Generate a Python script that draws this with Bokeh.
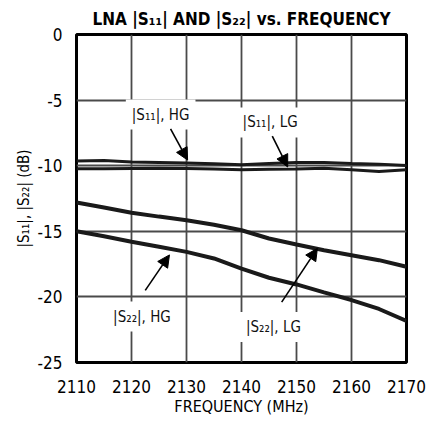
import numpy as np
from bokeh.plotting import figure
from bokeh.models import Range1d, FixedTicker, Label, Arrow, NormalHead
from bokeh.embed import file_html
from bokeh.resources import INLINE

# ---- data ----
freq = [2110, 2115, 2120, 2125, 2130, 2135, 2140, 2145, 2150, 2155, 2160, 2165, 2170]
s11_hg = [-9.65, -9.60, -9.72, -9.76, -9.80, -9.86, -9.93, -9.84, -9.75, -9.75, -9.84, -9.88, -9.98]
s11_lg = [-10.24, -10.24, -10.22, -10.20, -10.22, -10.26, -10.30, -10.28, -10.26, -10.20, -10.30, -10.45, -10.30]
s22_lg = [-12.80, -13.18, -13.58, -13.88, -14.16, -14.50, -14.92, -15.55, -16.00, -16.44, -16.82, -17.20, -17.70]
s22_hg = [-15.00, -15.38, -15.80, -16.18, -16.57, -17.07, -17.85, -18.54, -19.05, -19.66, -20.24, -20.92, -21.83]

x_ticks = [2110, 2120, 2130, 2140, 2150, 2160, 2170]
y_ticks = [-25, -20, -15, -10, -5, 0]
y_tick_labels = ["-25", "-20", "-15", "-10", "-5", "0"]

x_title = "FREQUENCY (MHz)"
y_title = "|S\u2081\u2081|, |S\u2082\u2082| (dB)"
chart_title = "LNA |S\u2081\u2081| AND |S\u2082\u2082| vs. FREQUENCY"

# annotation texts and anchor points (data units)
ann_text = ["|S\u2081\u2081|, HG", "|S\u2081\u2081|, LG", "|S\u2082\u2082|, HG", "|S\u2082\u2082|, LG"]
ann_x = [2125.3, 2145.2, 2121.9, 2145.8]
ann_y = [-6.1, -6.7, -21.5, -22.3]
arr_x0 = [2127.1, 2145.6, 2122.5, 2147.3]
arr_y0 = [-7.2, -7.75, -19.5, -20.4]
arr_x1 = [2130.2, 2148.4, 2126.9, 2153.8]
arr_y1 = [-9.57, -10.1, -16.8, -16.3]

FONT = "DejaVu Sans Condensed"

p = figure(width=429, height=418, output_backend="svg", toolbar_location=None,
           x_range=Range1d(2110, 2170), y_range=Range1d(-25, 0),
           min_border_left=76, min_border_right=23, min_border_top=34, min_border_bottom=55)

p.title.text = chart_title
p.title.align = "center"
p.title.text_font = FONT
p.title.text_font_size = "17px"
p.title.text_font_style = "bold"
p.title.text_color = "black"
p.title.standoff = 12

p.outline_line_color = "black"
p.outline_line_width = 3
p.outline_line_alpha = 1.0

for ax in (p.xaxis[0], p.yaxis[0]):
    ax.axis_line_color = None
    ax.major_tick_line_color = None
    ax.minor_tick_line_color = None
    ax.major_tick_out = 0
    ax.major_tick_in = 0
    ax.major_label_text_font = FONT
    ax.major_label_text_font_size = "17px"
    ax.major_label_text_color = "black"
    ax.axis_label_text_font = FONT
    ax.axis_label_text_font_style = "normal"
    ax.axis_label_text_color = "black"

p.xaxis[0].ticker = FixedTicker(ticks=x_ticks)
p.yaxis[0].ticker = FixedTicker(ticks=y_ticks)
p.yaxis[0].major_label_overrides = {t: s for t, s in zip(y_ticks, y_tick_labels)}
p.xaxis[0].major_label_standoff = 17
p.yaxis[0].major_label_standoff = 14
p.xaxis[0].axis_label = x_title
p.xaxis[0].axis_label_text_font_size = "16px"
p.xaxis[0].axis_label_standoff = 1
p.yaxis[0].axis_label = y_title
p.yaxis[0].axis_label_text_font_size = "15px"
p.yaxis[0].axis_label_standoff = 2

p.xgrid.ticker = FixedTicker(ticks=x_ticks)
p.ygrid.ticker = FixedTicker(ticks=y_ticks)
for g in (p.xgrid[0], p.ygrid[0]):
    g.grid_line_color = "#4a4a4a"
    g.grid_line_width = 1.8

p.line(freq, s11_hg, line_color="#1a1a1a", line_width=3)
p.line(freq, s11_lg, line_color="#1a1a1a", line_width=3)
p.line(freq, s22_lg, line_color="#1a1a1a", line_width=4)
p.line(freq, s22_hg, line_color="#1a1a1a", line_width=4)

for t, x, y in zip(ann_text, ann_x, ann_y):
    p.add_layout(Label(x=x, y=y, text=t, text_align="center", text_baseline="middle",
                       text_font=FONT, text_font_size="15px", text_color="#111111",
                       background_fill_color="white", padding=6))

for xs, ys, xe, ye in zip(arr_x0, arr_y0, arr_x1, arr_y1):
    p.add_layout(Arrow(x_start=xs, y_start=ys, x_end=xe, y_end=ye, line_width=1.6,
                       line_color="black",
                       end=NormalHead(size=12, fill_color="black", line_color="black")))

p.add_layout(Label(x=2170, y=-2.5, x_offset=19, text="MAX2391 toc17", angle=np.pi / 2,
                   text_align="center", text_baseline="middle", text_font=FONT,
                   text_font_size="9px", text_color="#333333"))

open("out.html", "w").write(file_html(p, INLINE))
